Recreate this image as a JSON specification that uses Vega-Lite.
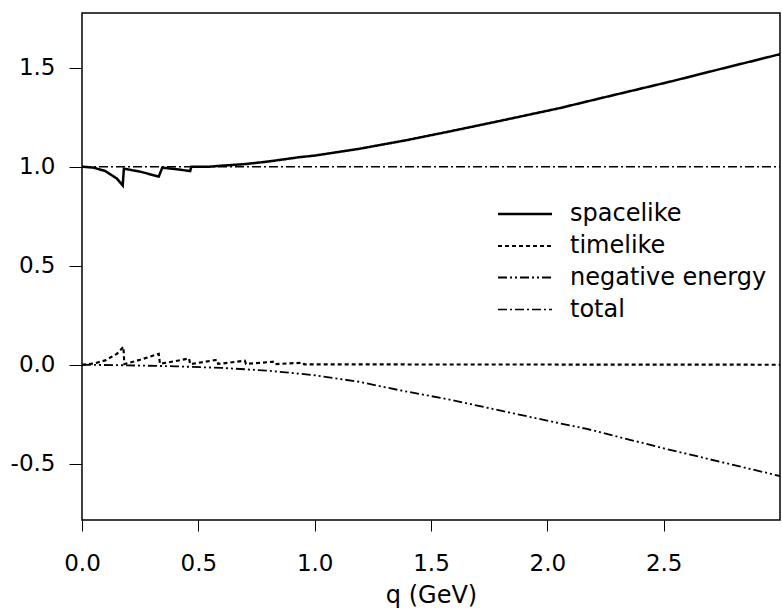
{
  "$schema": "https://vega.github.io/schema/vega-lite/v6.json",
  "width": 698,
  "height": 507,
  "autosize": {"type": "none"},
  "padding": {"left": 82, "top": 13, "right": 2, "bottom": 96},
  "background": "white",
  "config": {
    "view": {"stroke": "black", "strokeWidth": 1.5},
    "font": "DejaVu Sans",
    "axis": {"domain": false, "grid": false, "tickColor": "black", "labelColor": "black", "titleColor": "black", "labelFont": "DejaVu Sans", "titleFont": "DejaVu Sans", "labelFontSize": 23, "titleFontSize": 24, "titleFontWeight": "normal", "tickWidth": 1}
  },
  "data": {"values": [
    {"series": "spacelike", "q": 0.0, "v": 1.0},
    {"series": "spacelike", "q": 0.05, "v": 0.995},
    {"series": "spacelike", "q": 0.1, "v": 0.978},
    {"series": "spacelike", "q": 0.15, "v": 0.94},
    {"series": "spacelike", "q": 0.175, "v": 0.905},
    {"series": "spacelike", "q": 0.18, "v": 0.99},
    {"series": "spacelike", "q": 0.25, "v": 0.975},
    {"series": "spacelike", "q": 0.33, "v": 0.95},
    {"series": "spacelike", "q": 0.345, "v": 0.995},
    {"series": "spacelike", "q": 0.4, "v": 0.988},
    {"series": "spacelike", "q": 0.465, "v": 0.978},
    {"series": "spacelike", "q": 0.47, "v": 1.0},
    {"series": "spacelike", "q": 0.55, "v": 1.0},
    {"series": "spacelike", "q": 0.6, "v": 1.005},
    {"series": "spacelike", "q": 0.7, "v": 1.013},
    {"series": "spacelike", "q": 0.8, "v": 1.026},
    {"series": "spacelike", "q": 0.935, "v": 1.048},
    {"series": "spacelike", "q": 1.0, "v": 1.056},
    {"series": "spacelike", "q": 1.19, "v": 1.09},
    {"series": "spacelike", "q": 1.4, "v": 1.135},
    {"series": "spacelike", "q": 1.58, "v": 1.178},
    {"series": "spacelike", "q": 1.8, "v": 1.232},
    {"series": "spacelike", "q": 2.054, "v": 1.296},
    {"series": "spacelike", "q": 2.23, "v": 1.346},
    {"series": "spacelike", "q": 2.53, "v": 1.43},
    {"series": "spacelike", "q": 2.75, "v": 1.495},
    {"series": "spacelike", "q": 3.0, "v": 1.568},
    {"series": "timelike", "q": 0.0, "v": 0.0},
    {"series": "timelike", "q": 0.05, "v": 0.006},
    {"series": "timelike", "q": 0.1, "v": 0.022},
    {"series": "timelike", "q": 0.15, "v": 0.055},
    {"series": "timelike", "q": 0.178, "v": 0.09},
    {"series": "timelike", "q": 0.182, "v": 0.003},
    {"series": "timelike", "q": 0.25, "v": 0.025},
    {"series": "timelike", "q": 0.33, "v": 0.055},
    {"series": "timelike", "q": 0.335, "v": 0.005},
    {"series": "timelike", "q": 0.4, "v": 0.018},
    {"series": "timelike", "q": 0.46, "v": 0.032},
    {"series": "timelike", "q": 0.465, "v": 0.003},
    {"series": "timelike", "q": 0.58, "v": 0.025},
    {"series": "timelike", "q": 0.585, "v": 0.004},
    {"series": "timelike", "q": 0.7, "v": 0.02},
    {"series": "timelike", "q": 0.705, "v": 0.004},
    {"series": "timelike", "q": 0.82, "v": 0.015},
    {"series": "timelike", "q": 0.825, "v": 0.003},
    {"series": "timelike", "q": 0.95, "v": 0.01},
    {"series": "timelike", "q": 0.955, "v": 0.002},
    {"series": "timelike", "q": 1.2, "v": 0.002},
    {"series": "timelike", "q": 1.5, "v": 0.001},
    {"series": "timelike", "q": 2.0, "v": 0.001},
    {"series": "timelike", "q": 3.0, "v": 0.0},
    {"series": "negative energy", "q": 0.0, "v": 0.0},
    {"series": "negative energy", "q": 0.2, "v": -0.003},
    {"series": "negative energy", "q": 0.4, "v": -0.008},
    {"series": "negative energy", "q": 0.6, "v": -0.016},
    {"series": "negative energy", "q": 0.8, "v": -0.03},
    {"series": "negative energy", "q": 1.0, "v": -0.053},
    {"series": "negative energy", "q": 1.19, "v": -0.086},
    {"series": "negative energy", "q": 1.37, "v": -0.13},
    {"series": "negative energy", "q": 1.58, "v": -0.176},
    {"series": "negative energy", "q": 1.8, "v": -0.232},
    {"series": "negative energy", "q": 2.054, "v": -0.296},
    {"series": "negative energy", "q": 2.17, "v": -0.324},
    {"series": "negative energy", "q": 2.5, "v": -0.422},
    {"series": "negative energy", "q": 2.75, "v": -0.492},
    {"series": "negative energy", "q": 3.0, "v": -0.562},
    {"series": "total", "q": 0.0, "v": 1.0},
    {"series": "total", "q": 3.0, "v": 1.0}
  ]},
  "mark": {"type": "line", "color": "black", "clip": true},
  "encoding": {
    "x": {"field": "q", "type": "quantitative",
      "scale": {"domain": [0, 3.0], "nice": false, "zero": false},
      "axis": {"title": "q (GeV)", "values": [0, 0.5, 1, 1.5, 2, 2.5], "format": ".1f", "tickSize": 11, "labelPadding": 21, "titlePadding": 8, "labelFlush": false}},
    "y": {"field": "v", "type": "quantitative",
      "scale": {"domain": [-0.784, 1.776], "nice": false, "zero": false},
      "axis": {"title": null, "values": [-0.5, 0, 0.5, 1, 1.5], "labelExpr": "datum.value < 0 ? '-' + format(abs(datum.value), '.1f') : format(datum.value, '.1f')", "tickSize": 13, "labelPadding": 14, "labelFlush": false}},
    "strokeDash": {"field": "series", "type": "nominal",
      "scale": {"domain": ["spacelike", "timelike", "negative energy", "total"], "range": [[1, 0], [4, 3], [9, 3, 2, 3, 2, 3], [9, 3, 2, 3]]},
      "legend": {"title": null, "orient": "none", "legendX": 428, "legendY": 186, "padding": 0,
        "symbolType": "M-2,0H2", "symbolSize": 729, "symbolStrokeColor": "black",
        "labelFont": "DejaVu Sans", "labelFontSize": 24, "labelColor": "black", "labelOffset": 30, "rowPadding": 5, "labelLimit": 400}},
    "strokeWidth": {"field": "series", "type": "nominal",
      "scale": {"domain": ["spacelike", "timelike", "negative energy", "total"], "range": [2.5, 1.5, 1.5, 1.5]},
      "legend": null}
  }
}
